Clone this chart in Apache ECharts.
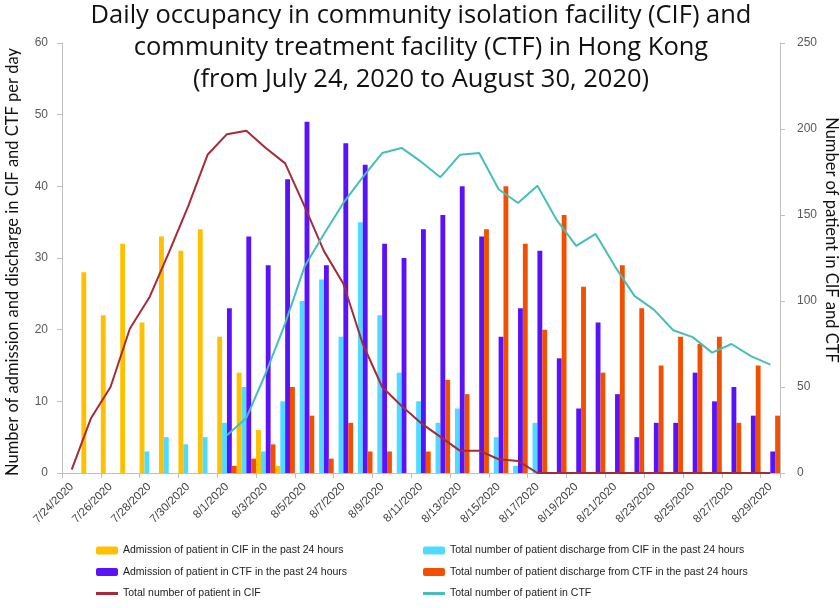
<!DOCTYPE html>
<html>
<head>
<meta charset="utf-8">
<script src="https://cdn.jsdelivr.net/npm/echarts@6/dist/echarts.min.js"></script>
<style>
html,body{margin:0;padding:0;background:#fff;}
#chart{width:840px;height:608px;}
</style>
</head>
<body>
<div id="chart"></div>
<script>
var dates = ['7/24/2020','7/25/2020','7/26/2020','7/27/2020','7/28/2020','7/29/2020','7/30/2020','7/31/2020',
 '8/1/2020','8/2/2020','8/3/2020','8/4/2020','8/5/2020','8/6/2020','8/7/2020','8/8/2020','8/9/2020','8/10/2020',
 '8/11/2020','8/12/2020','8/13/2020','8/14/2020','8/15/2020','8/16/2020','8/17/2020','8/18/2020','8/19/2020',
 '8/20/2020','8/21/2020','8/22/2020','8/23/2020','8/24/2020','8/25/2020','8/26/2020','8/27/2020','8/28/2020','8/29/2020'];

var cifAdmission = [0,28,22,32,21,33,31,34,19,14,6,1,0,0,0,0,0,0,0,0,0,0,0,0,0,0,0,0,0,0,0,0,0,0,0,0,0];
var cifDischarge = [0,0,0,0,3,5,4,5,7,12,3,10,24,27,19,35,22,14,10,7,9,0,5,1,7,0,0,0,0,0,0,0,0,0,0,0,0];
var ctfAdmission = [0,0,0,0,0,0,0,0,23,33,29,41,49,29,46,43,32,30,34,36,40,33,19,23,31,16,9,21,11,5,7,7,14,10,12,8,3];
var ctfDischarge = [0,0,0,0,0,0,0,0,1,2,4,12,8,2,7,3,3,0,3,13,11,34,40,32,20,36,26,14,29,23,15,19,18,19,7,15,8];
var cifTotal = [2,32,50,84,102,128,155,185,197,199,189,180,155,129,110,75,50,39,29,21,13,13,8,7,0,0,0,0,0,0,0,0,0,0,0,0,0];
var ctfTotal = [null,null,null,null,null,null,null,null,22,32,58,87,120,139,157,172,186,189,181,172,185,186,165,157,167,147,132,139,120,103,95,83,79,70,75,68,63];

var leftTicks = [0,10,20,30,40,50,60];
var rightTicks = [0,50,100,150,200,250];

var names = [
 'Admission of patient in CIF in the past 24 hours',
 'Total number of patient discharge from CIF in the past 24 hours',
 'Admission of patient in CTF in the past 24 hours',
 'Total number of patient discharge from CTF in the past 24 hours',
 'Total number of patient in CIF',
 'Total number of patient in CTF'
];
var titleText = 'Daily occupancy in community isolation facility (CIF) and\ncommunity treatment facility (CTF) in Hong Kong\n(from July 24, 2020 to August 30, 2020)';
var leftAxisName = 'Number of admission and discharge in CIF and CTF per day';
var rightAxisName = 'Number of patient in CIF and CTF';
var colors = ['#FFC000','#4FDBFF','#5A12FA','#F25000','#A62A38','#45BFBA'];

var chart = echarts.init(document.getElementById('chart'), null, {renderer:'canvas'});
var lineIcon = 'path://M0,0H22V3H0Z';
var legendText = {fontFamily:'Liberation Sans', fontSize:10.5, color:'#222', lineHeight:13};
var option = {
  animation:false,
  graphic:[
    {type:'text', x:421, y:0, style:{text:titleText, fill:'#111', font:'25.5px "Open Sans"', align:'center', verticalAlign:'top', lineHeight:32}},
    {type:'text', x:13, y:262, rotation:Math.PI/2, style:{text:leftAxisName, fill:'#111', font:'16.5px Lato', align:'center', verticalAlign:'middle'}},
    {type:'text', x:831, y:240, rotation:-Math.PI/2, style:{text:rightAxisName, fill:'#111', font:'16.5px Lato', align:'center', verticalAlign:'middle'}}
  ],
  legend:[{
    orient:'vertical', left:96, top:544, height:80, padding:0, itemWidth:22, itemHeight:8, itemGap:8.5,
    textStyle:legendText,
    data:[{name:names[0]},{name:names[2]},{name:names[4], icon:lineIcon}]
  },{
    orient:'vertical', left:423, top:544, height:80, padding:0, itemWidth:22, itemHeight:8, itemGap:8.5,
    textStyle:legendText,
    data:[{name:names[1]},{name:names[3]},{name:names[5], icon:lineIcon}]
  }],
  grid:{left:62, right:60, top:43, bottom:135, containLabel:false, outerBoundsMode:'none'},
  xAxis:{
    type:'category', data:dates, boundaryGap:true,
    axisLine:{lineStyle:{color:'#BFBFBF'}},
    axisTick:{show:true, interval:1, length:5, lineStyle:{color:'#BFBFBF'}},
    axisLabel:{interval:1, rotate:45, fontFamily:'Liberation Sans', fontSize:11.5, color:'#404040', margin:12},
    splitLine:{show:false}
  },
  yAxis:[{
    type:'value', min:leftTicks[0], max:leftTicks[leftTicks.length-1], interval:10, position:'left',
    axisLine:{show:true, lineStyle:{color:'#BFBFBF'}},
    axisTick:{show:true, length:5, lineStyle:{color:'#BFBFBF'}},
    axisLabel:{fontFamily:'Liberation Sans', fontSize:12, color:'#595959', margin:14},
    splitLine:{show:false}
  },{
    type:'value', min:rightTicks[0], max:rightTicks[rightTicks.length-1], interval:50, position:'right',
    axisLine:{show:true, lineStyle:{color:'#BFBFBF'}},
    axisTick:{show:true, length:5, lineStyle:{color:'#BFBFBF'}},
    axisLabel:{fontFamily:'Liberation Sans', fontSize:12, color:'#595959', margin:17},
    splitLine:{show:false}
  }],
  series:[
    {name:names[0], type:'bar', data:cifAdmission, itemStyle:{color:colors[0]}, barGap:'0%', barCategoryGap:'0%'},
    {name:names[1], type:'bar', data:cifDischarge, itemStyle:{color:colors[1]}, barGap:'0%', barCategoryGap:'0%'},
    {name:names[2], type:'bar', data:ctfAdmission, itemStyle:{color:colors[2]}, barGap:'0%', barCategoryGap:'0%'},
    {name:names[3], type:'bar', data:ctfDischarge, itemStyle:{color:colors[3]}, barGap:'0%', barCategoryGap:'0%'},
    {name:names[4], type:'line', yAxisIndex:1, data:cifTotal, symbol:'none', showSymbol:false,
      lineStyle:{color:colors[4], width:2}, itemStyle:{color:colors[4]}},
    {name:names[5], type:'line', yAxisIndex:1, data:ctfTotal, symbol:'none', showSymbol:false, connectNulls:false,
      lineStyle:{color:colors[5], width:2}, itemStyle:{color:colors[5]}}
  ]
};
chart.setOption(option);
</script>
</body>
</html>
